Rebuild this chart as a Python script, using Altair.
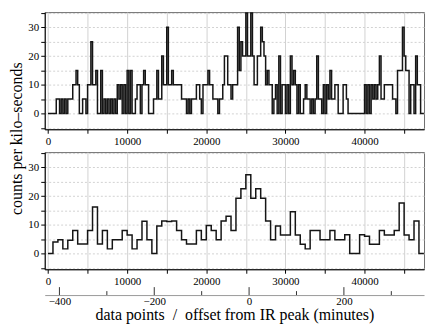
import altair as alt
import pandas as pd

# ---------------- data ----------------
# top panel: fine bins (counts per kilo-second), bin width 625/3 data points
top_counts = [
    0, 0, 0, 0, 0, 5, 5, 0, 5, 0, 5, 0, 5, 5, 5, 10, 10, 15, 10, 0,
    0, 5, 5, 0, 10, 10, 25, 10, 10, 15, 0, 0, 15, 0, 5, 0, 5, 0, 5, 0,
    5, 0, 10, 5, 10, 0, 10, 0, 15, 0, 15, 0, 0, 5, 10, 10, 0, 10, 15, 10,
    10, 0, 0, 0, 5, 5, 15, 5, 5, 20, 10, 10, 30, 10, 10, 15, 10, 10, 10, 10,
    10, 5, 5, 5, 0, 5, 0, 5, 5, 5, 10, 10, 5, 0, 10, 10, 10, 15, 10, 10,
    5, 5, 5, 0, 5, 5, 10, 20, 20, 10, 10, 5, 10, 10, 10, 30, 15, 25, 20, 20,
    35, 20, 20, 35, 20, 10, 10, 20, 20, 30, 25, 20, 10, 15, 10, 10, 0, 5, 10, 0,
    20, 0, 10, 10, 0, 10, 0, 20, 10, 15, 10, 0, 10, 0, 0, 5, 10, 5, 5, 0,
    5, 0, 5, 20, 5, 5, 0, 10, 0, 10, 5, 15, 5, 5, 10, 10, 0, 0, 0, 10,
    10, 5, 0, 0, 0, 0, 0, 0, 0, 0, 0, 0, 10, 0, 10, 0, 10, 5, 10, 5,
    10, 20, 5, 5, 10, 10, 10, 10, 10, 5, 5, 0, 15, 15, 15, 30, 20, 15, 15, 0,
    10, 10, 0, 20, 10, 10, 0, 0,
]
top_bin_width = 625 / 3

# bottom panel: coarse bins, bin width 625 data points
bottom_counts = [
    0, 4.0, 4.8, 1.6, 4.6, 8.0, 3.3, 3.3, 8.0, 16.2,
    3.3, 8.0, 1.6, 4.8, 4.8, 8.0, 6.4, 1.6, 4.8, 11.2,
    4.8, 0, 9.6, 11.3, 11.1, 11.3, 8.0, 4.8, 3.3, 3.3,
    8.0, 4.8, 9.7, 8.0, 4.8, 11.3, 13.0, 8.0, 19.2, 22.5,
    27.4, 19.2, 22.5, 19.2, 11.3, 4.8, 9.6, 6.4, 6.4, 14.5,
    6.4, 3.2, 1.6, 8.0, 8.0, 4.8, 4.8, 8.0, 4.8, 4.8,
    6.5, 0, 0, 6.5, 6.0, 3.2, 3.2, 8.0, 6.4, 6.4,
    8.0, 17.6, 6.4, 4.8, 11.3, 0,
]
bottom_bin_width = 625

x_ticks = [0, 5000, 10000, 15000, 20000, 25000, 30000, 35000, 40000, 45000]
y_ticks = [-5, 0, 5, 10, 15, 20, 25, 30, 35]
minute_major = [-400, -200, 0, 200]
minute_minor = [-300, -100, 100, 300]

x_domain = [-414, 47516]
y_domain = [-5.5, 35.3]
minute_domain = [-431, 369]

W, H = 382, 118
HM = 3  # height of the strip carrying the minutes axis
FONT = "Liberation Serif"
INK = "#151515"


def steps(values, width):
    xs = [i * width for i in range(len(values))] + [len(values) * width]
    ys = list(values) + [values[-1]]
    return pd.DataFrame({"x": xs, "y": ys})


def x_axis():
    return alt.Axis(
        values=x_ticks, format="d",
        labelExpr="datum.value % 10000 == 0 ? datum.label : ''",
        title=None, tickSize=4, labelPadding=2, labelFontSize=11,
        grid=True, gridColor="#d2d2d2", domainColor="black", tickColor="black",
        labelColor="black", labelFont=FONT,
    )


def y_axis(**kw):
    return alt.Axis(
        values=y_ticks,
        labelExpr="(datum.value % 10 == 0 && datum.value >= 0 && datum.value <= 30) ? datum.label : ''",
        tickSize=4, labelPadding=2, labelFontSize=11,
        grid=True, gridColor="#d2d2d2", gridDash=[2, 2],
        domainColor="black", tickColor="black", labelColor="black", labelFont=FONT,
        **kw,
    )


def step_chart(df, yaxis):
    return alt.Chart(df).mark_line(
        interpolate="step-after", color=INK, strokeWidth=1.5
    ).encode(
        x=alt.X("x:Q", scale=alt.Scale(domain=x_domain, nice=False, zero=False), axis=x_axis()),
        y=alt.Y("y:Q", scale=alt.Scale(domain=y_domain, nice=False, zero=False), axis=yaxis),
    ).properties(width=W, height=H)


top = step_chart(steps(top_counts, top_bin_width), y_axis(title=None))

bottom = step_chart(
    steps(bottom_counts, bottom_bin_width),
    y_axis(
        title="counts per kilo\u2013seconds", titleFont=FONT, titleFontSize=16,
        titleFontWeight="normal", titleColor="black", titleX=-20, titleY=-14,
        titleBaseline="bottom", titleAngle=270,
    ),
)

mscale = alt.Scale(domain=minute_domain, nice=False, zero=False)

rule_major = alt.Chart(pd.DataFrame({"m": minute_major})).mark_rule(
    color="#333", strokeWidth=1
).encode(
    x=alt.X("m:Q", scale=mscale, axis=alt.Axis(
        orient="bottom", values=minute_major, ticks=False, domain=True,
        domainColor="#999", grid=False, labelPadding=0, labelFontSize=11,
        labelFont=FONT, labelColor="black",
        title="data points\u00a0\u00a0/\u00a0\u00a0offset from IR peak (minutes)",
        titleFont=FONT, titleFontSize=16, titleFontWeight="normal",
        titleColor="black", titlePadding=1)),
    y=alt.value(HM - 8),
    y2=alt.value(HM),
)
rule_minor = alt.Chart(pd.DataFrame({"m": minute_minor})).mark_rule(
    color="#333", strokeWidth=1
).encode(
    x=alt.X("m:Q", scale=mscale),
    y=alt.value(HM - 4),
    y2=alt.value(HM),
)

minutes = alt.layer(rule_major, rule_minor).properties(
    width=W, height=HM, view=alt.ViewConfig(stroke="transparent")
)

chart = (
    alt.vconcat(top, bottom, minutes, spacing=23, bounds="flush")
    .properties(padding=0)
    .configure(font=FONT)
    .configure_view(stroke="#6e6e6e", strokeWidth=1)
)

chart.save("out.html", embed_options={"renderer": "svg", "actions": False})
